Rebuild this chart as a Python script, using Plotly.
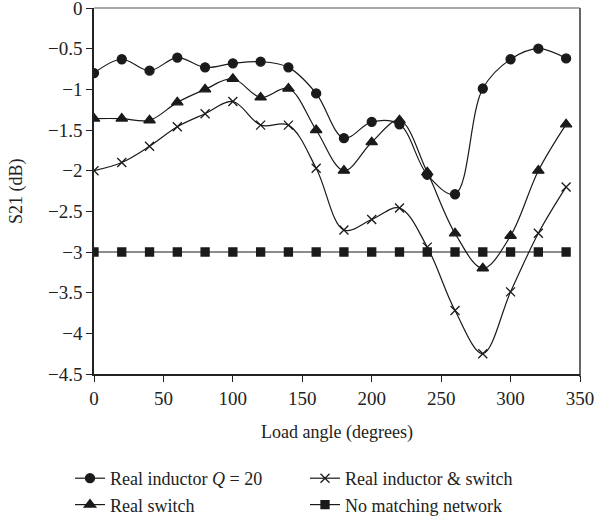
import plotly.graph_objects as go

# Load angle sweep (degrees)
load_angle = [0, 20, 40, 60, 80, 100, 120, 140, 160, 180, 200, 220, 240, 260, 280, 300, 320, 340]

# S21 (dB) for each configuration
real_inductor = [-0.80, -0.63, -0.77, -0.61, -0.73, -0.68, -0.66, -0.73, -1.05, -1.60,
                 -1.40, -1.43, -2.05, -2.29, -0.99, -0.63, -0.50, -0.62]
real_inductor_switch = [-2.00, -1.90, -1.70, -1.46, -1.30, -1.15, -1.44, -1.44, -1.97, -2.73,
                        -2.60, -2.46, -2.94, -3.72, -4.25, -3.49, -2.77, -2.20]
real_switch = [-1.36, -1.36, -1.38, -1.16, -1.00, -0.87, -1.10, -0.99, -1.50, -2.00,
               -1.65, -1.38, -2.02, -2.77, -3.20, -2.80, -2.00, -1.43]
no_matching = [-3.0] * 18

names = ["Real inductor <i>Q</i> = 20", "Real inductor &amp; switch",
         "Real switch", "No matching network"]
series = [real_inductor, real_inductor_switch, real_switch, no_matching]
symbols = ["circle", "x-thin", "triangle-up", "square"]
sizes = [9, 9, 10, 8]
legend_ids = ["legend", "legend2", "legend", "legend2"]

FONT = "Liberation Serif"
INK = "#1a1a1a"

fig = go.Figure()
for name, ys, sym, sz, lg in zip(names, series, symbols, sizes, legend_ids):
    fig.add_trace(go.Scatter(
        x=load_angle, y=ys, name=name, mode="lines+markers", legend=lg,
        line=dict(color=INK, width=1.2, shape="spline", smoothing=1.0),
        marker=dict(symbol=sym, size=sz, color=INK,
                    line=dict(color=INK, width=1.3)),
    ))

legend_common = dict(orientation="v", xref="container", xanchor="left",
                     yref="container", y=(520 - 460) / 520, yanchor="top",
                     font=dict(family=FONT, size=18), itemwidth=30,
                     tracegroupgap=0, bgcolor="rgba(0,0,0,0)")

fig.update_layout(
    width=595, height=520,
    margin=dict(l=94, r=15, t=8, b=146, autoexpand=False),
    paper_bgcolor="white", plot_bgcolor="white",
    font=dict(family=FONT, size=16, color="#222222"),
    showlegend=True,
    legend=dict(x=70 / 595, **legend_common),
    legend2=dict(x=305 / 595, **legend_common),
    xaxis=dict(range=[0, 350], tickvals=[0, 50, 100, 150, 200, 250, 300, 350],
               showline=True, linecolor="#222222", linewidth=1.6, mirror=False,
               ticks="outside", ticklen=6, tickcolor="#222222", showgrid=False,
               zeroline=False, title=dict(text="Load angle (degrees)", standoff=18,
                                          font=dict(size=18)),
               tickfont=dict(size=19), ticklabeloverflow="allow"),
    yaxis=dict(range=[-4.5, 0], dtick=0.5,
               showline=True, linecolor="#222222", linewidth=1.6, mirror=False,
               ticks="outside", ticklen=6, tickcolor="#222222", showgrid=False,
               zeroline=False, tickfont=dict(size=19), ticklabeloverflow="allow"),
    annotations=[dict(text="S21 (dB)", xref="paper", yref="paper", x=0, y=0.5,
                      xanchor="center", yanchor="middle", xshift=-78,
                      textangle=-90, showarrow=False,
                      font=dict(family=FONT, size=18, color="#222222"))],
    shapes=[
        # thin top frame line
        dict(type="line", xref="paper", yref="paper", x0=0, x1=1, y0=1, y1=1,
             line=dict(color="#555555", width=1), layer="below"),
        # heavier grey right frame line
        dict(type="line", xref="paper", yref="paper", x0=1, x1=1, y0=-0.008, y1=1,
             line=dict(color="#666666", width=2), layer="below"),
    ],
)

fig.write_html("out.html")
